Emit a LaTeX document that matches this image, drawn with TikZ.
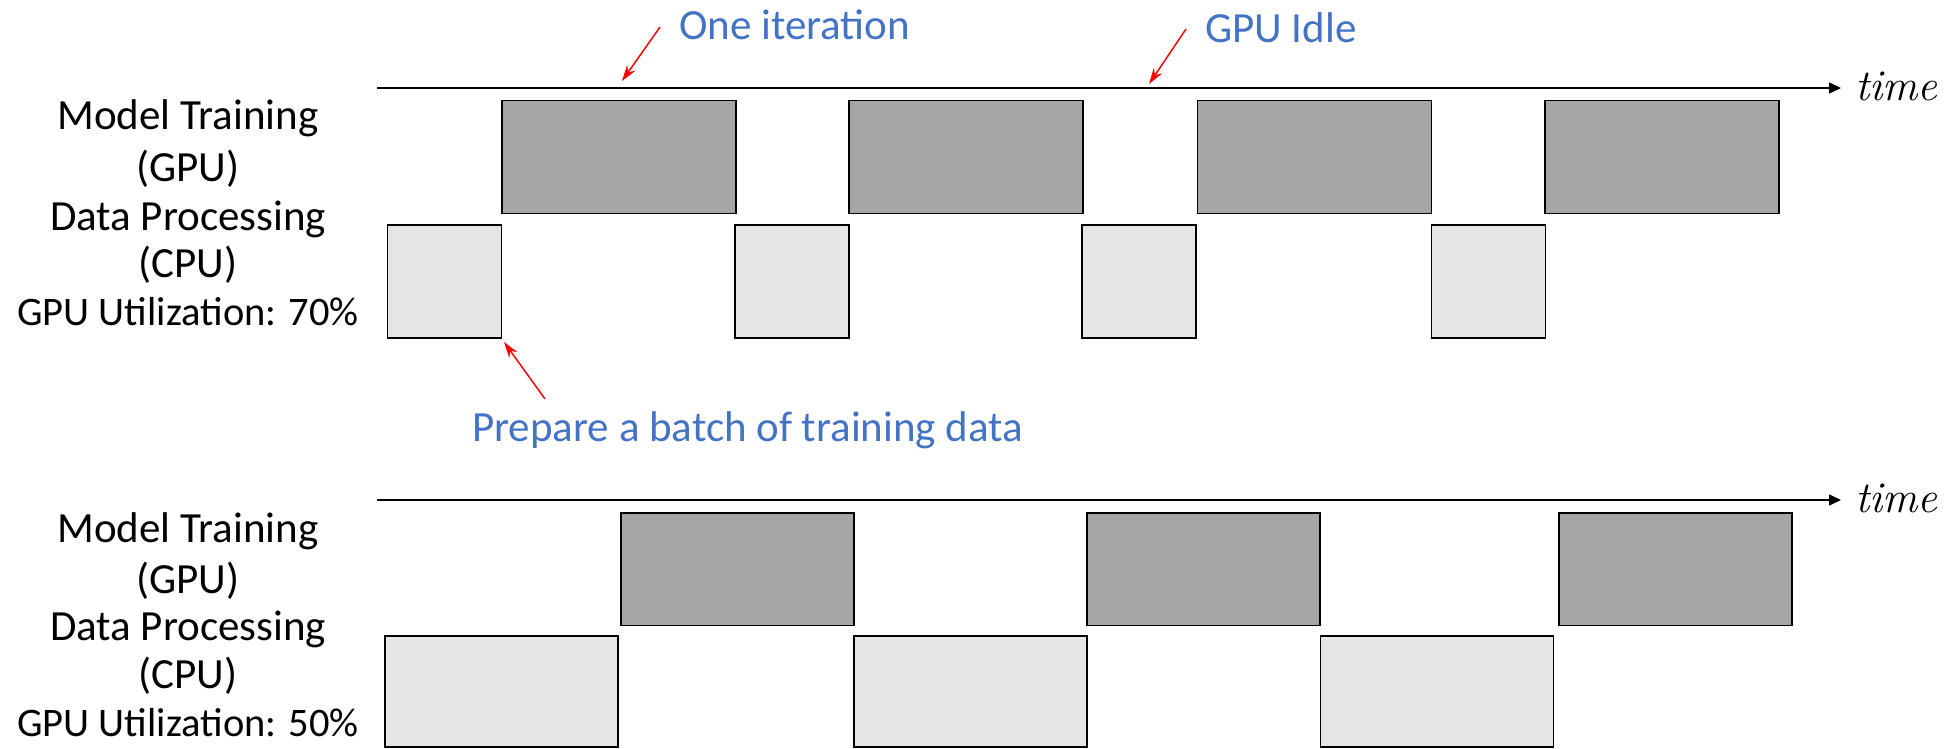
\documentclass[tikz,border=0pt]{standalone}
\usepackage{fontspec}
\setmainfont{Carlito}
\newfontfamily\timefont{Latin Modern Roman}
\usetikzlibrary{arrows.meta}
\definecolor{gpufill}{HTML}{A6A6A6}
\definecolor{cpufill}{HTML}{E5E5E5}
\definecolor{bluetxt}{HTML}{4472C4}
\tikzset{
  gpubox/.style={draw=black, line width=1.6pt, fill=gpufill, anchor=north west, inner sep=0pt},
  cpubox/.style={draw=black, line width=1.6pt, fill=cpufill, anchor=north west, inner sep=0pt},
  lbl/.style={anchor=base, inner sep=0pt, font=\fontsize{43}{50}\selectfont},
  utl/.style={anchor=base, inner sep=0pt, font=\fontsize{40.5}{48}\selectfont},
  note/.style={anchor=base west, inner sep=0pt, text=bluetxt, font=\fontsize{43}{50}\selectfont},
  redarrow/.style={draw=red, line width=1.5pt, -{Stealth[length=16pt,width=10pt]}},
  axis/.style={draw=black, line width=1.5pt, -{Triangle[length=12pt,width=11pt]}},
  timelbl/.style={anchor=base west, inner sep=0pt, font=\fontsize{44}{50}\timefont\itshape}
}
\begin{document}
\begin{tikzpicture}[x=1pt, y=-1pt]
\useasboundingbox (0,0) rectangle (1959,748);

% ---------- top diagram ----------
\coordinate (ax1s) at (377,88);
\coordinate (ax1e) at (1841,88);
\draw[axis] (ax1s) -- (ax1e);
\node[timelbl] (time1) at (1855,100) {time};

\node[lbl] (mt1)  at (188,129) {Model Training};
\node[lbl] (gpu1) at (188,181) {(GPU)};
\node[lbl] (dp1)  at (188,230) {Data Processing};
\node[lbl] (cpu1) at (188,277) {(CPU)};
\node[utl] (ut1)  at (188,325) {GPU Utilization: 70\%};

\foreach \i/\x in {1/386.5, 2/734, 3/1081, 4/1430.5}
  \node[cpubox, minimum width=114pt, minimum height=113pt] (tc\i) at (\x,224) {};
\foreach \i/\x in {1/501, 2/848, 3/1196.5, 4/1544}
  \node[gpubox, minimum width=234pt, minimum height=113pt] (tg\i) at (\x,99.5) {};

\node[note] (oneit) at (679,39) {One iteration};
\coordinate (oi-s) at (660,27);
\coordinate (oi-t) at (622,81);
\draw[redarrow] (oi-s) -- (oi-t);

\node[note] (idle) at (1205,42) {GPU Idle};
\coordinate (id-s) at (1186,29);
\coordinate (id-t) at (1149,84);
\draw[redarrow] (id-s) -- (id-t);

\node[note] (prep) at (472,441) {Prepare a batch of training data};
\coordinate (pr-s) at (545,399);
\coordinate (pr-t) at (504,342);
\draw[redarrow] (pr-s) -- (pr-t);

% ---------- bottom diagram ----------
\coordinate (ax2s) at (377,500);
\coordinate (ax2e) at (1841,500);
\draw[axis] (ax2s) -- (ax2e);
\node[timelbl] (time2) at (1855,512) {time};

\node[lbl] (mt2)  at (188,542) {Model Training};
\node[lbl] (gpu2) at (188,593) {(GPU)};
\node[lbl] (dp2)  at (188,640) {Data Processing};
\node[lbl] (cpu2) at (188,688) {(CPU)};
\node[utl] (ut2)  at (188,736) {GPU Utilization: 50\%};

\foreach \i/\x in {1/384, 2/853, 3/1319.5}
  \node[cpubox, minimum width=233pt, minimum height=111pt] (bc\i) at (\x,635) {};
\foreach \i/\x in {1/620, 2/1086, 3/1558}
  \node[gpubox, minimum width=233pt, minimum height=112.5pt] (bg\i) at (\x,512) {};
\end{tikzpicture}
\end{document}
